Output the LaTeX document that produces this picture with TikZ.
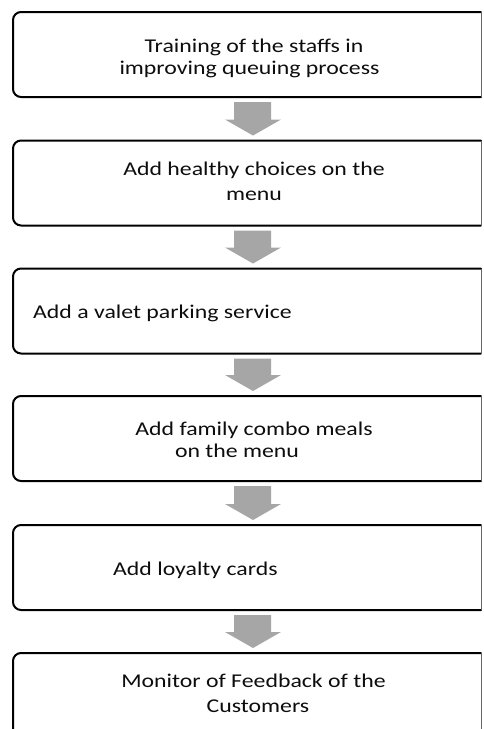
\documentclass[tikz,border=0pt]{standalone}
\usepackage{fontspec}
\setmainfont{Carlito}[FakeStretch=1.22]
\usetikzlibrary{calc}
\definecolor{arrowgray}{HTML}{A6A6A6}
\tikzset{
  boxshape/.style={minimum width=468pt, minimum height=85pt, inner sep=0pt, outer sep=0pt},
  border/.style={line width=2pt, draw=black, line cap=round, line join=round},
  rightedge/.style={line width=0.8pt, draw=black!60},
  arrowfill/.style={fill=arrowgray},
  txt/.style={inner sep=0pt, font=\fontsize{19.5}{23}\selectfont, text=black!95},
}
\newcommand\boxborder[1]{%
  \draw[border] (#1.north east) [rounded corners=8pt] -- (#1.north west) -- (#1.south west) -- (#1.south east);
  \draw[rightedge] (#1.north east) -- (#1.south east);}
\newcommand\flowarrow[2]{%
  \path ($(#1.south)+(6,5)$) coordinate (#1top) ($(#2.north)+(6,-5)$) coordinate (#1tip);
  \fill[arrowfill] ($(#1top)+(-19,0)$) -- ($(#1top)+(18,0)$) -- ($(#1tip)+(18,-16)$) -- ($(#1tip)+(28,-16)$) -- (#1tip) -- ($(#1tip)+(-28,-16)$) -- ($(#1tip)+(-19,-16)$) -- cycle;}
\begin{document}
\begin{tikzpicture}[x=1pt,y=-1pt]
\useasboundingbox (0,0) rectangle (483,729);
\clip (0,0) rectangle (483,729);
% boxes
\node[boxshape] (b1) at (247,54.5) {};
\node[boxshape] (b2) at (247,183) {};
\node[boxshape] (b3) at (247,311) {};
\node[boxshape] (b4) at (247,438.5) {};
\node[boxshape] (b5) at (247,567.5) {};
\node[boxshape] (b6) at (247,695.5) {};
\foreach \b in {b1,b2,b3,b4,b5,b6} {\boxborder{\b}}
% arrows
\flowarrow{b1}{b2}
\flowarrow{b2}{b3}
\flowarrow{b3}{b4}
\flowarrow{b4}{b5}
\flowarrow{b5}{b6}
% texts
\node[txt, anchor=base] (t1a) at (254,52) {Training of the staffs in};
\node[txt, anchor=base] (t1b) at (249.5,74.5) {improving queuing process};
\node[txt, anchor=base] (t2a) at (254,175) {Add healthy choices on the};
\node[txt, anchor=base] (t2b) at (254,200) {menu};
\node[txt, anchor=base west] (t3) at (33,318) {Add a valet parking service};
\node[txt, anchor=base] (t4a) at (254,435.5) {Add family combo meals};
\node[txt, anchor=base] (t4b) at (237,457) {on the menu};
\node[txt, anchor=base west] (t5) at (113,575) {Add loyalty cards};
\node[txt, anchor=base] (t6a) at (253.5,687) {Monitor of Feedback of the};
\node[txt, anchor=base] (t6b) at (258,712) {Customers};
\end{tikzpicture}
\end{document}
